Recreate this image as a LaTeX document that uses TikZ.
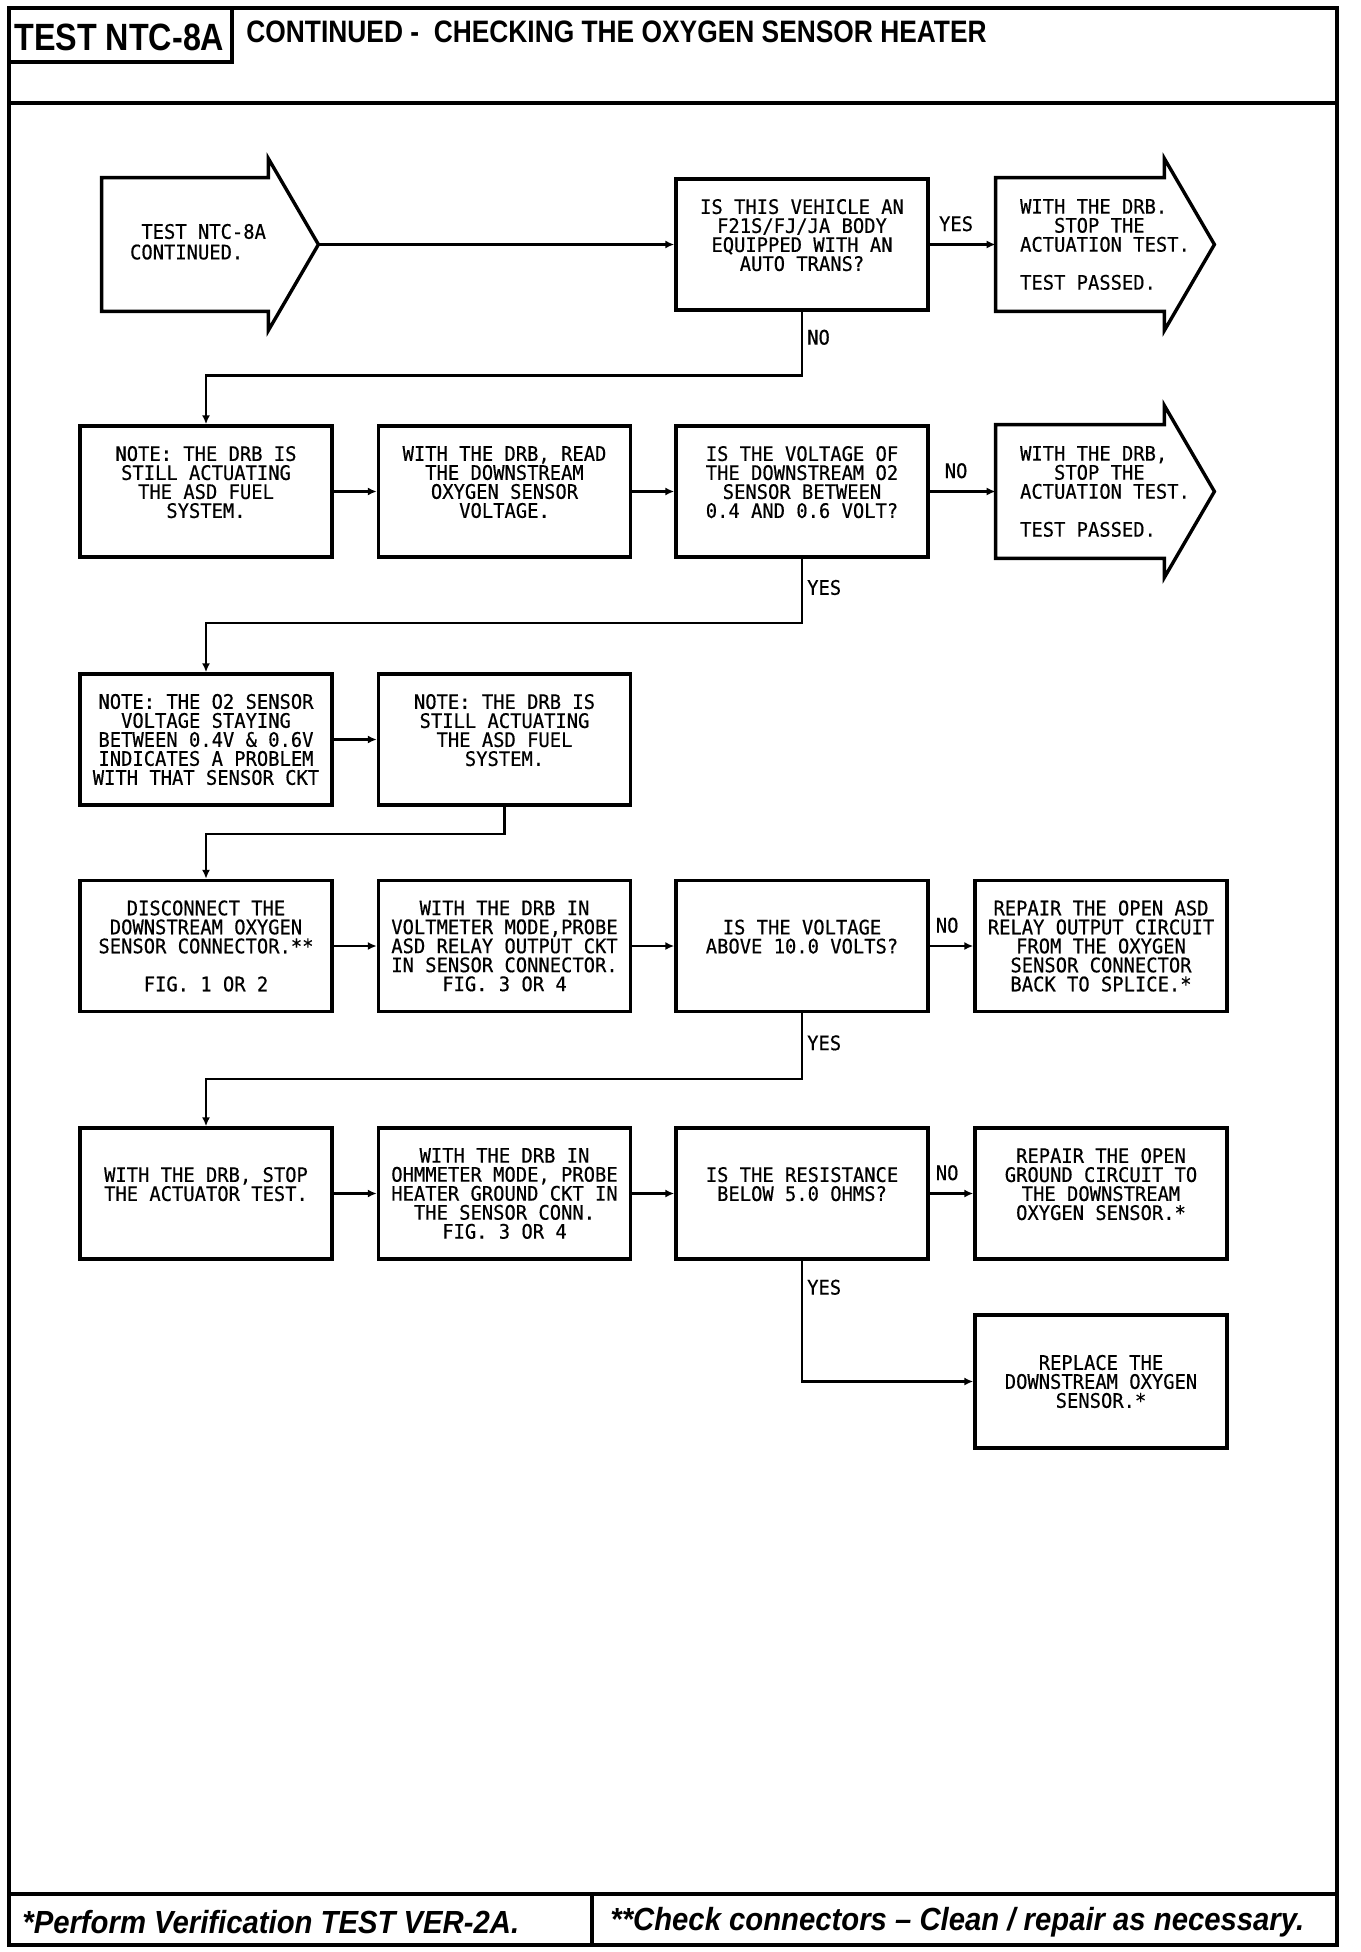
\documentclass[tikz,border=0pt]{standalone}
\usepackage{fontspec}
\usetikzlibrary{arrows.meta,calc}
\newfontfamily\plotfont[FakeStretch=0.94,FakeBold=0.5]{DejaVu Sans Mono}
\newfontfamily\headsans[FakeStretch=0.85]{Liberation Sans}
\newfontfamily\footsans[FakeStretch=0.915]{Liberation Sans}
\newcommand\bxfont{\plotfont\fontsize{10pt}{9.5pt}\selectfont}
\begin{document}
\begin{tikzpicture}[x=0.5pt,y=-0.5pt,
  bx/.style={draw,line width=1.7pt,line join=miter},
  frame/.style={line width=1.8pt},
  box/.style={bx,minimum width=126pt,minimum height=65.5pt,align=center,font=\bxfont,inner sep=1pt},
  bigarrow/.style={inner sep=0pt,minimum height=66.5pt,align=left,font=\bxfont},
  conn/.style={line width=1.2pt,-{Latex[length=4.5pt,width=4pt]}},
  lbl/.style={font=\bxfont,inner sep=2pt}]
\useasboundingbox (0,0) rectangle (1360,1952);
% frame
\draw[frame] (9,8) rectangle (1337,1945);
\draw[frame] (9,103) -- (1337,103);
\draw[frame] (9,62) -- (232,62) -- (232,8);
\draw[frame] (9,1894) -- (1337,1894);
\draw[frame] (592,1894) -- (592,1945);
\node[anchor=west,inner sep=0pt,font=\headsans\bfseries\fontsize{19pt}{19pt}\selectfont] (testid) at (14,37) {TEST NTC-8A};
\node[anchor=west,inner sep=0pt,font=\headsans\bfseries\fontsize{15.5pt}{15.5pt}\selectfont] (title) at (246,32) {CONTINUED -\ \ CHECKING THE OXYGEN SENSOR HEATER};
\node[anchor=west,inner sep=0pt,font=\footsans\bfseries\itshape\fontsize{16pt}{16pt}\selectfont] (foot1) at (22,1922) {*Perform Verification TEST VER-2A.};
\node[anchor=west,inner sep=0pt,font=\footsans\bfseries\itshape\fontsize{16pt}{16pt}\selectfont] (foot2) at (610,1922) {**Check connectors – Clean / repair as necessary.};

% row 1
\node[bigarrow,minimum width=83pt] (start) at (185,244.5) {\begin{tabular}{@{\hspace{13pt}}l@{}}\ TEST NTC-8A\\CONTINUED.\end{tabular}};
\coordinate (starttip) at ($(start.east)+(50,0)$);
\draw[bx] (start.north west) -- (start.north east) -- ++(0,-19) -- (starttip) -- ($(start.south east)+(0,19)$) -- (start.south east) -- (start.south west) -- cycle;
\node[box] (q1) at (802,244.5) {IS THIS VEHICLE AN\\F21S/FJ/JA BODY\\EQUIPPED WITH AN\\AUTO TRANS?\\\mbox{}};
\node[bigarrow,minimum width=109pt] (pass1) at (1105,244.5) {WITH THE DRB.\\\ \ \ STOP THE\\ACTUATION TEST.\\\mbox{}\\TEST PASSED.};
\draw[bx] (pass1.north west) -- ($(pass1.north east)+(-50,0)$) -- ++(0,-19) -- (pass1.east) -- ($(pass1.south east)+(-50,19)$) -- ($(pass1.south east)+(-50,0)$) -- (pass1.south west) -- cycle;

% row 2
\node[box] (noteA) at (206,491.5) {NOTE: THE DRB IS\\STILL ACTUATING\\THE ASD FUEL\\SYSTEM.\\\mbox{}};
\node[box] (readO2) at (504.5,491.5) {WITH THE DRB, READ\\THE DOWNSTREAM\\OXYGEN SENSOR\\VOLTAGE.\\\mbox{}};
\node[box] (q2) at (802,491.5) {IS THE VOLTAGE OF\\THE DOWNSTREAM O2\\SENSOR BETWEEN\\0.4 AND 0.6 VOLT?\\\mbox{}};
\node[bigarrow,minimum width=109pt] (pass2) at (1105,491.5) {WITH THE DRB,\\\ \ \ STOP THE\\ACTUATION TEST.\\\mbox{}\\TEST PASSED.};
\draw[bx] (pass2.north west) -- ($(pass2.north east)+(-50,0)$) -- ++(0,-19) -- (pass2.east) -- ($(pass2.south east)+(-50,19)$) -- ($(pass2.south east)+(-50,0)$) -- (pass2.south west) -- cycle;

% row 3
\node[box] (noteD) at (206,739.5) {NOTE: THE O2 SENSOR\\VOLTAGE STAYING\\BETWEEN 0.4V \& 0.6V\\INDICATES A PROBLEM\\WITH THAT SENSOR CKT};
\node[box] (noteE) at (504.5,739.5) {NOTE: THE DRB IS\\STILL ACTUATING\\THE ASD FUEL\\SYSTEM.\\\mbox{}};

% row 4
\node[box] (disc) at (206,946) {DISCONNECT THE\\DOWNSTREAM OXYGEN\\SENSOR CONNECTOR.**\\\mbox{}\\FIG. 1 OR 2};
\node[box] (probeV) at (504.5,946) {WITH THE DRB IN\\VOLTMETER MODE,PROBE\\ASD RELAY OUTPUT CKT\\IN SENSOR CONNECTOR.\\FIG. 3 OR 4};
\node[box] (q3) at (802,946) {IS THE VOLTAGE\\ABOVE 10.0 VOLTS?\\\mbox{}};
\node[box] (repASD) at (1101,946) {REPAIR THE OPEN ASD\\RELAY OUTPUT CIRCUIT\\FROM THE OXYGEN\\SENSOR CONNECTOR\\BACK TO SPLICE.*};

% row 5
\node[box] (stopAct) at (206,1193.5) {WITH THE DRB, STOP\\THE ACTUATOR TEST.\\\mbox{}};
\node[box] (probeR) at (504.5,1193.5) {WITH THE DRB IN\\OHMMETER MODE, PROBE\\HEATER GROUND CKT IN\\THE SENSOR CONN.\\FIG. 3 OR 4};
\node[box] (q4) at (802,1193.5) {IS THE RESISTANCE\\BELOW 5.0 OHMS?\\\mbox{}};
\node[box] (repGnd) at (1101,1193.5) {REPAIR THE OPEN\\GROUND CIRCUIT TO\\THE DOWNSTREAM\\OXYGEN SENSOR.*\\\mbox{}};
\node[box,minimum height=66.5pt] (replace) at (1101,1381.5) {REPLACE THE\\DOWNSTREAM OXYGEN\\SENSOR.*};

% connectors
\draw[conn] (starttip) -- (q1.west);
\draw[conn] (q1.east) -- node[lbl,above=4pt,pos=0.4] {YES} (pass1.west);
\draw[conn] (q1.south) -- node[lbl,right,pos=0.4] {NO} ++(0,64) -| (noteA.north);
\draw[conn] (noteA.east) -- (readO2.west);
\draw[conn] (readO2.east) -- (q2.west);
\draw[conn] (q2.east) -- node[lbl,above=4pt,pos=0.4] {NO} (pass2.west);
\draw[conn] (q2.south) -- node[lbl,right,pos=0.45] {YES} ++(0,64) -| (noteD.north);
\draw[conn] (noteD.east) -- (noteE.west);
\draw[conn] (noteE.south) -- ++(0,27) -| (disc.north);
\draw[conn] (disc.east) -- (probeV.west);
\draw[conn] (probeV.east) -- (q3.west);
\draw[conn] (q3.east) -- node[lbl,above=4pt,pos=0.4] {NO} (repASD.west);
\draw[conn] (q3.south) -- node[lbl,right,pos=0.45] {YES} ++(0,66) -| (stopAct.north);
\draw[conn] (stopAct.east) -- (probeR.west);
\draw[conn] (probeR.east) -- (q4.west);
\draw[conn] (q4.east) -- node[lbl,above=4pt,pos=0.4] {NO} (repGnd.west);
\draw[conn] (q4.south) |- node[lbl,right,pos=0.11] {YES} (replace.west);
\end{tikzpicture}
\end{document}
